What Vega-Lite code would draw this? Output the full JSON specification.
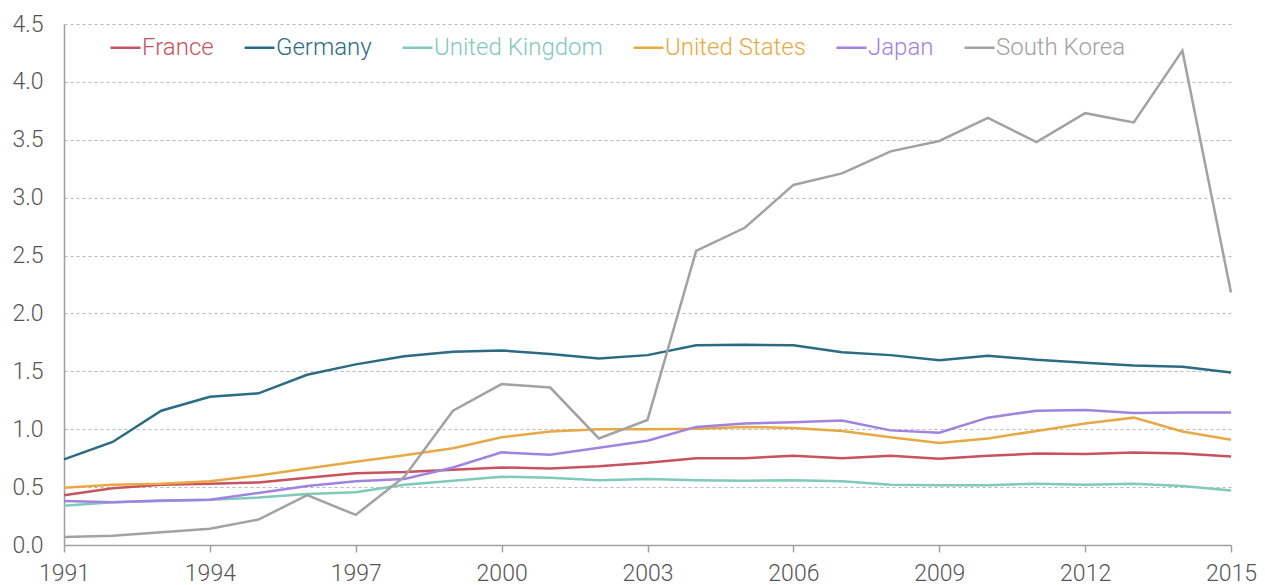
{
  "$schema": "https://vega.github.io/schema/vega-lite/v6.json",
  "width": 1167,
  "height": 521,
  "autosize": {"type": "none"},
  "padding": {"left": 64, "top": 24, "right": 34, "bottom": 40},
  "background": "white",
  "config": {
    "font": "Roboto",
    "view": {"stroke": null},
    "axis": {"labelFont": "Roboto", "labelFontWeight": 300, "labelColor": "#555555", "labelFontSize": 23, "domainColor": "#a0a0a0", "domainWidth": 1.5, "tickColor": "#a0a0a0", "tickWidth": 1.5}
  },
  "datasets": {
    "rows": [
      {"country": "France", "year": 1991, "value": 0.43}, {"country": "France", "year": 1992, "value": 0.49}, {"country": "France", "year": 1993, "value": 0.52}, {"country": "France", "year": 1994, "value": 0.53}, {"country": "France", "year": 1995, "value": 0.54}, {"country": "France", "year": 1996, "value": 0.58}, {"country": "France", "year": 1997, "value": 0.62}, {"country": "France", "year": 1998, "value": 0.63}, {"country": "France", "year": 1999, "value": 0.65}, {"country": "France", "year": 2000, "value": 0.67}, {"country": "France", "year": 2001, "value": 0.66}, {"country": "France", "year": 2002, "value": 0.68}, {"country": "France", "year": 2003, "value": 0.71}, {"country": "France", "year": 2004, "value": 0.75}, {"country": "France", "year": 2005, "value": 0.75}, {"country": "France", "year": 2006, "value": 0.77}, {"country": "France", "year": 2007, "value": 0.75}, {"country": "France", "year": 2008, "value": 0.77}, {"country": "France", "year": 2009, "value": 0.745}, {"country": "France", "year": 2010, "value": 0.77}, {"country": "France", "year": 2011, "value": 0.79}, {"country": "France", "year": 2012, "value": 0.785}, {"country": "France", "year": 2013, "value": 0.80}, {"country": "France", "year": 2014, "value": 0.79}, {"country": "France", "year": 2015, "value": 0.765},
      {"country": "Germany", "year": 1991, "value": 0.74}, {"country": "Germany", "year": 1992, "value": 0.89}, {"country": "Germany", "year": 1993, "value": 1.16}, {"country": "Germany", "year": 1994, "value": 1.28}, {"country": "Germany", "year": 1995, "value": 1.31}, {"country": "Germany", "year": 1996, "value": 1.47}, {"country": "Germany", "year": 1997, "value": 1.56}, {"country": "Germany", "year": 1998, "value": 1.63}, {"country": "Germany", "year": 1999, "value": 1.67}, {"country": "Germany", "year": 2000, "value": 1.68}, {"country": "Germany", "year": 2001, "value": 1.65}, {"country": "Germany", "year": 2002, "value": 1.61}, {"country": "Germany", "year": 2003, "value": 1.64}, {"country": "Germany", "year": 2004, "value": 1.725}, {"country": "Germany", "year": 2005, "value": 1.73}, {"country": "Germany", "year": 2006, "value": 1.725}, {"country": "Germany", "year": 2007, "value": 1.665}, {"country": "Germany", "year": 2008, "value": 1.64}, {"country": "Germany", "year": 2009, "value": 1.595}, {"country": "Germany", "year": 2010, "value": 1.635}, {"country": "Germany", "year": 2011, "value": 1.60}, {"country": "Germany", "year": 2012, "value": 1.575}, {"country": "Germany", "year": 2013, "value": 1.55}, {"country": "Germany", "year": 2014, "value": 1.54}, {"country": "Germany", "year": 2015, "value": 1.49},
      {"country": "United Kingdom", "year": 1991, "value": 0.34}, {"country": "United Kingdom", "year": 1992, "value": 0.37}, {"country": "United Kingdom", "year": 1993, "value": 0.38}, {"country": "United Kingdom", "year": 1994, "value": 0.39}, {"country": "United Kingdom", "year": 1995, "value": 0.41}, {"country": "United Kingdom", "year": 1996, "value": 0.44}, {"country": "United Kingdom", "year": 1997, "value": 0.455}, {"country": "United Kingdom", "year": 1998, "value": 0.52}, {"country": "United Kingdom", "year": 1999, "value": 0.555}, {"country": "United Kingdom", "year": 2000, "value": 0.59}, {"country": "United Kingdom", "year": 2001, "value": 0.58}, {"country": "United Kingdom", "year": 2002, "value": 0.56}, {"country": "United Kingdom", "year": 2003, "value": 0.57}, {"country": "United Kingdom", "year": 2004, "value": 0.56}, {"country": "United Kingdom", "year": 2005, "value": 0.555}, {"country": "United Kingdom", "year": 2006, "value": 0.56}, {"country": "United Kingdom", "year": 2007, "value": 0.55}, {"country": "United Kingdom", "year": 2008, "value": 0.52}, {"country": "United Kingdom", "year": 2009, "value": 0.515}, {"country": "United Kingdom", "year": 2010, "value": 0.515}, {"country": "United Kingdom", "year": 2011, "value": 0.53}, {"country": "United Kingdom", "year": 2012, "value": 0.52}, {"country": "United Kingdom", "year": 2013, "value": 0.53}, {"country": "United Kingdom", "year": 2014, "value": 0.51}, {"country": "United Kingdom", "year": 2015, "value": 0.47},
      {"country": "United States", "year": 1991, "value": 0.495}, {"country": "United States", "year": 1992, "value": 0.52}, {"country": "United States", "year": 1993, "value": 0.53}, {"country": "United States", "year": 1994, "value": 0.55}, {"country": "United States", "year": 1995, "value": 0.60}, {"country": "United States", "year": 1996, "value": 0.66}, {"country": "United States", "year": 1997, "value": 0.72}, {"country": "United States", "year": 1998, "value": 0.775}, {"country": "United States", "year": 1999, "value": 0.835}, {"country": "United States", "year": 2000, "value": 0.93}, {"country": "United States", "year": 2001, "value": 0.98}, {"country": "United States", "year": 2002, "value": 1.00}, {"country": "United States", "year": 2003, "value": 1.00}, {"country": "United States", "year": 2004, "value": 1.005}, {"country": "United States", "year": 2005, "value": 1.02}, {"country": "United States", "year": 2006, "value": 1.01}, {"country": "United States", "year": 2007, "value": 0.985}, {"country": "United States", "year": 2008, "value": 0.93}, {"country": "United States", "year": 2009, "value": 0.88}, {"country": "United States", "year": 2010, "value": 0.92}, {"country": "United States", "year": 2011, "value": 0.985}, {"country": "United States", "year": 2012, "value": 1.05}, {"country": "United States", "year": 2013, "value": 1.10}, {"country": "United States", "year": 2014, "value": 0.98}, {"country": "United States", "year": 2015, "value": 0.91},
      {"country": "Japan", "year": 1991, "value": 0.38}, {"country": "Japan", "year": 1992, "value": 0.37}, {"country": "Japan", "year": 1993, "value": 0.385}, {"country": "Japan", "year": 1994, "value": 0.39}, {"country": "Japan", "year": 1995, "value": 0.45}, {"country": "Japan", "year": 1996, "value": 0.51}, {"country": "Japan", "year": 1997, "value": 0.55}, {"country": "Japan", "year": 1998, "value": 0.57}, {"country": "Japan", "year": 1999, "value": 0.67}, {"country": "Japan", "year": 2000, "value": 0.80}, {"country": "Japan", "year": 2001, "value": 0.78}, {"country": "Japan", "year": 2002, "value": 0.84}, {"country": "Japan", "year": 2003, "value": 0.90}, {"country": "Japan", "year": 2004, "value": 1.02}, {"country": "Japan", "year": 2005, "value": 1.05}, {"country": "Japan", "year": 2006, "value": 1.06}, {"country": "Japan", "year": 2007, "value": 1.075}, {"country": "Japan", "year": 2008, "value": 0.99}, {"country": "Japan", "year": 2009, "value": 0.97}, {"country": "Japan", "year": 2010, "value": 1.10}, {"country": "Japan", "year": 2011, "value": 1.16}, {"country": "Japan", "year": 2012, "value": 1.165}, {"country": "Japan", "year": 2013, "value": 1.14}, {"country": "Japan", "year": 2014, "value": 1.145}, {"country": "Japan", "year": 2015, "value": 1.145},
      {"country": "South Korea", "year": 1991, "value": 0.07}, {"country": "South Korea", "year": 1992, "value": 0.08}, {"country": "South Korea", "year": 1993, "value": 0.11}, {"country": "South Korea", "year": 1994, "value": 0.14}, {"country": "South Korea", "year": 1995, "value": 0.22}, {"country": "South Korea", "year": 1996, "value": 0.43}, {"country": "South Korea", "year": 1997, "value": 0.26}, {"country": "South Korea", "year": 1998, "value": 0.59}, {"country": "South Korea", "year": 1999, "value": 1.16}, {"country": "South Korea", "year": 2000, "value": 1.39}, {"country": "South Korea", "year": 2001, "value": 1.36}, {"country": "South Korea", "year": 2002, "value": 0.92}, {"country": "South Korea", "year": 2003, "value": 1.08}, {"country": "South Korea", "year": 2004, "value": 2.54}, {"country": "South Korea", "year": 2005, "value": 2.74}, {"country": "South Korea", "year": 2006, "value": 3.11}, {"country": "South Korea", "year": 2007, "value": 3.21}, {"country": "South Korea", "year": 2008, "value": 3.40}, {"country": "South Korea", "year": 2009, "value": 3.49}, {"country": "South Korea", "year": 2010, "value": 3.69}, {"country": "South Korea", "year": 2011, "value": 3.48}, {"country": "South Korea", "year": 2012, "value": 3.73}, {"country": "South Korea", "year": 2013, "value": 3.65}, {"country": "South Korea", "year": 2014, "value": 4.27}, {"country": "South Korea", "year": 2015, "value": 2.18}
    ]
  },
  "data": {"name": "rows"},
  "mark": {"type": "line", "strokeWidth": 2.5, "clip": false},
  "encoding": {
    "x": {
      "field": "year", "type": "quantitative",
      "scale": {"domain": [1991, 2015], "nice": false, "zero": false},
      "axis": {"title": null, "values": [1991, 1994, 1997, 2000, 2003, 2006, 2009, 2012, 2015], "format": "d", "grid": false, "tickSize": 7, "labelPadding": 10, "labelFlush": false, "labelOverlap": false}
    },
    "y": {
      "field": "value", "type": "quantitative",
      "scale": {"domain": [0, 4.5], "nice": false},
      "axis": {"title": null, "values": [0, 0.5, 1, 1.5, 2, 2.5, 3, 3.5, 4, 4.5], "format": ".1f", "ticks": false, "labelPadding": 21, "grid": true, "gridColor": "#b8b8b8", "gridDash": [3, 3], "gridWidth": 1.2, "labelFlush": false, "labelOverlap": false}
    },
    "color": {
      "field": "country", "type": "nominal",
      "scale": {"domain": ["France", "Germany", "United Kingdom", "United States", "Japan", "South Korea"], "range": ["#c8525d", "#2b6b84", "#7fcab8", "#e8a944", "#a083e0", "#a2a2a2"]},
      "legend": {
        "title": null, "orient": "none", "direction": "horizontal", "legendX": 45, "legendY": 7,
        "symbolType": "stroke", "symbolSize": 900, "symbolStrokeWidth": 2.5,
        "labelFont": "Roboto", "labelFontWeight": 300, "labelFontSize": 24, "labelOffset": 0, "columnPadding": 25, "padding": 0,
        "labelLimit": 400,
        "encode": {"labels": {"update": {"fill": {"scale": "color", "field": "value"}}}}
      }
    }
  }
}
